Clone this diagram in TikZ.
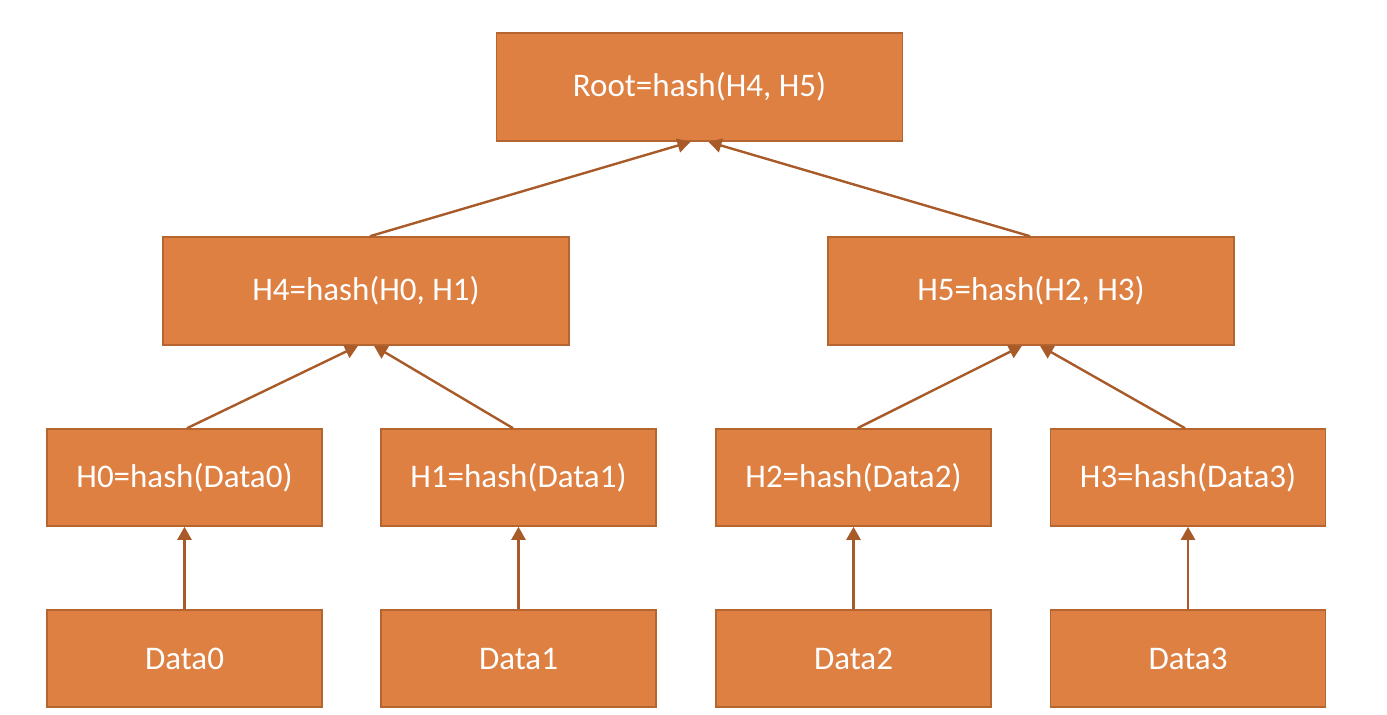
\documentclass[tikz,border=0pt]{standalone}
\usepackage{fontspec}
\setmainfont{Carlito}
\usetikzlibrary{arrows.meta}
\definecolor{boxfill}{HTML}{DD8042}
\definecolor{boxline}{HTML}{B5652F}
\definecolor{arrcol}{HTML}{A85A28}
\begin{document}
\begin{tikzpicture}[x=0.5pt,y=-0.5pt,
  box/.style={draw=boxline, line width=0.8pt, fill=boxfill, text=white,
    font=\fontsize{16.5}{19}\selectfont, inner sep=0pt},
  bigbox/.style={box, minimum width=203pt, minimum height=54pt},
  smallbox/.style={box, minimum width=137.5pt, minimum height=48.5pt},
  arr/.style={draw=arrcol, line width=1.2pt, -{Triangle[length=6.5pt,width=7pt]}}]
\useasboundingbox (0,0) rectangle (1387,714);
\node[bigbox] (root) at (699.5,87) {Root=hash(H4, H5)};
\node[bigbox] (h4) at (366,291) {H4=hash(H0, H1)};
\node[bigbox] (h5) at (1031,291) {H5=hash(H2, H3)};
\node[smallbox] (h0) at (184.5,477.5) {H0=hash(Data0)};
\node[smallbox] (h1) at (518.5,477.5) {H1=hash(Data1)};
\node[smallbox] (h2) at (853.5,477.5) {H2=hash(Data2)};
\node[smallbox] (h3) at (1188,477.5) {H3=hash(Data3)};
\node[smallbox] (d0) at (184.5,658.5) {Data0};
\node[smallbox] (d1) at (518.5,658.5) {Data1};
\node[smallbox] (d2) at (853.5,658.5) {Data2};
\node[smallbox] (d3) at (1188,658.5) {Data3};
\draw[arr] ([xshift=2pt]h4.north) -- ([xshift=-4.5pt]root.south);
\draw[arr] ([xshift=-0.5pt]h5.north) -- ([xshift=4.5pt]root.south);
\draw[arr] ([xshift=1.25pt]h0.north) -- ([xshift=-4pt]h4.south);
\draw[arr] ([xshift=-2.75pt]h1.north) -- ([xshift=4pt]h4.south);
\draw[arr] ([xshift=2pt]h2.north) -- ([xshift=-4.5pt]h5.south);
\draw[arr] ([xshift=-1.5pt]h3.north) -- ([xshift=4.5pt]h5.south);
\draw[arr] (d0.north) -- (h0.south);
\draw[arr] (d1.north) -- (h1.south);
\draw[arr] (d2.north) -- (h2.south);
\draw[arr] (d3.north) -- (h3.south);
\end{tikzpicture}
\end{document}
